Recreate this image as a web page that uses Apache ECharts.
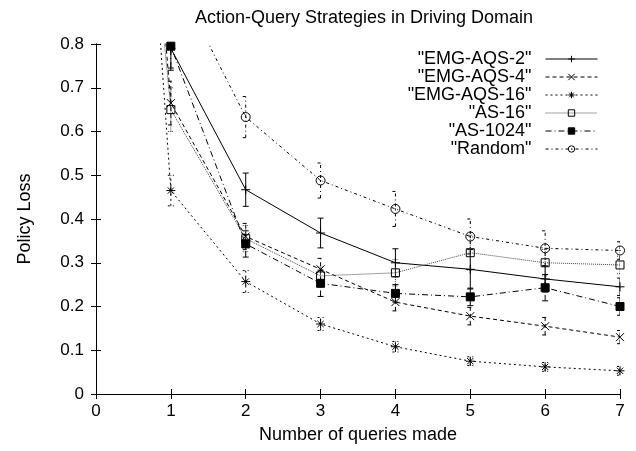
<!DOCTYPE html>
<html>
<head>
<meta charset="utf-8">
<script src="https://cdn.jsdelivr.net/npm/echarts@6/dist/echarts.min.js"></script>
<style>
  html, body { margin: 0; padding: 0; background: #fff; }
  #chart { width: 636px; height: 451px; }
</style>
</head>
<body>
<div id="chart"></div>
<script>
// number of queries (0 is off the top of the plot, only the lines show)
var queries = [0, 1, 2, 3, 4, 5, 6, 7];

var emg2 = [2.7, 0.79, 0.467, 0.368, 0.300, 0.285, 0.263, 0.245];
var emg2Err = [null, 0.05, 0.038, 0.034, 0.032, 0.045, 0.03, 0.02];

var emg4 = [2.7, 0.665, 0.360, 0.285, 0.210, 0.178, 0.155, 0.130];
var emg4Err = [null, 0.05, 0.03, 0.025, 0.02, 0.02, 0.02, 0.015];

var emg16 = [2.9, 0.465, 0.257, 0.160, 0.108, 0.075, 0.062, 0.053];
var emg16Err = [null, 0.035, 0.025, 0.015, 0.012, 0.01, 0.01, 0.01];

var as16 = [2.4, 0.650, 0.355, 0.270, 0.277, 0.323, 0.300, 0.295];
var as16Err = [null, 0.05, 0.03, 0.02, 0.03, 0.04, 0.03, 0.02];

var as1024 = [2.7, 0.795, 0.343, 0.253, 0.230, 0.222, 0.243, 0.200];
var as1024Err = [null, 0.05, 0.03, 0.03, 0.02, 0.02, 0.03, 0.02];

var random = [2.7, 0.97, 0.633, 0.488, 0.423, 0.360, 0.333, 0.328];
var randomErr = [null, null, 0.047, 0.04, 0.04, 0.04, 0.04, 0.02];

var names = ['"EMG-AQS-2"', '"EMG-AQS-4"', '"EMG-AQS-16"', '"AS-16"', '"AS-1024"', '"Random"'];
var yTicks = [0, 0.1, 0.2, 0.3, 0.4, 0.5, 0.6, 0.7, 0.8];

var myChart = echarts.init(document.getElementById('chart'));
var FONT = 'Liberation Sans, Arial, sans-serif';

function pts(vals) {
  return vals.map(function (v, i) { return [queries[i], v]; });
}
function errPts(vals, errs) {
  var out = [];
  vals.forEach(function (v, i) {
    if (errs[i] != null) out.push([queries[i], v - errs[i], v + errs[i]]);
  });
  return out;
}

// vertical error bar with small caps
function errRender(dash, color) {
  return function (params, api) {
    var x = api.value(0);
    var lo = api.coord([x, api.value(1)]);
    var hi = api.coord([x, api.value(2)]);
    var w = 3;
    var st = { stroke: color, lineWidth: 1, lineDash: dash, fill: null };
    return {
      type: 'group',
      children: [
        { type: 'line', shape: { x1: lo[0], y1: lo[1], x2: hi[0], y2: hi[1] }, style: st },
        { type: 'line', shape: { x1: lo[0] - w, y1: lo[1], x2: lo[0] + w, y2: lo[1] }, style: st },
        { type: 'line', shape: { x1: hi[0] - w, y1: hi[1], x2: hi[0] + w, y2: hi[1] }, style: st }
      ]
    };
  };
}

var styles = [
  { vals: emg2, errs: emg2Err, dash: 'solid', d: null, symbol: 'path://M0,5L10,5M5,0L5,10', size: 9, fill: 'rgba(0,0,0,0)', color: '#000' },
  { vals: emg4, errs: emg4Err, dash: [4, 3], d: [4, 3], symbol: 'path://M0,0L10,10M10,0L0,10', size: 8, fill: 'rgba(0,0,0,0)', color: '#000' },
  { vals: emg16, errs: emg16Err, dash: [2, 3], d: [2, 3], symbol: 'path://M0,5L10,5M5,0L5,10M1.5,1.5L8.5,8.5M8.5,1.5L1.5,8.5', size: 9, fill: 'rgba(0,0,0,0)', color: '#000' },
  { vals: as16, errs: as16Err, dash: [1, 1], d: [1, 1], symbol: 'rect', size: 8, fill: 'rgba(0,0,0,0)', color: '#444' },
  { vals: as1024, errs: as1024Err, dash: [6, 3, 1, 3], d: [6, 3, 1, 3], symbol: 'rect', size: 8, fill: '#000', color: '#000' },
  { vals: random, errs: randomErr, dash: [3, 3, 1, 3], d: [3, 3, 1, 3], symbol: 'path://M0,5A5,5 0 1,1 10,5A5,5 0 1,1 0,5ZM4.3,5L5.7,5', size: 9, fill: 'rgba(0,0,0,0)', color: '#000' }
];

var series = [];
styles.forEach(function (s, k) {
  series.push({
    name: names[k],
    type: 'line',
    data: pts(s.vals),
    symbol: s.symbol,
    symbolSize: s.size,
    showAllSymbol: true,
    clip: true,
    lineStyle: { color: s.color, width: 1, type: s.dash },
    itemStyle: { color: s.fill, borderColor: '#000', borderWidth: 1 },
    z: 3
  });
  series.push({
    name: 'err' + k,
    type: 'custom',
    data: errPts(s.vals, s.errs),
    encode: { x: 0, y: [1, 2] },
    clip: true,
    renderItem: errRender(s.d, s.color),
    z: 2
  });
});

var tickStyle = { show: true, inside: true, length: 5, lineStyle: { color: '#000' } };
var lineBlack = { show: true, lineStyle: { color: '#000', width: 1 } };
var labelFont = { color: '#000', fontSize: 17, fontFamily: FONT };

var option = {
  animation: false,
  backgroundColor: '#fff',
  title: {
    text: 'Action-Query Strategies in Driving Domain',
    left: 190,
    top: 4,
    textStyle: { color: '#000', fontSize: 18, fontWeight: 'normal', fontFamily: FONT }
  },
  legend: {
    data: names,
    orient: 'vertical',
    right: 38,
    top: 50,
    padding: 0,
    align: 'right',
    itemWidth: 52,
    itemHeight: 8,
    itemGap: 0,
    lineStyle: { width: 1 },
    itemStyle: { borderWidth: 1 },
    textStyle: { color: '#000', fontSize: 18, fontFamily: FONT, padding: [0, 9, 0, 0], lineHeight: 18 }
  },
  grid: { left: 96, right: 16, top: 44, bottom: 57 },
  xAxis: [{
    type: 'value', min: 0, max: 7, interval: 1,
    name: 'Number of queries made', nameLocation: 'middle', nameGap: 32,
    nameTextStyle: { color: '#000', fontSize: 18, fontFamily: FONT },
    axisLine: lineBlack, axisTick: tickStyle,
    axisLabel: Object.assign({ margin: 9 }, labelFont),
    splitLine: { show: false }
  }, {
    type: 'value', min: 0, max: 7, interval: 1, position: 'top',
    axisLine: lineBlack, axisTick: tickStyle, axisLabel: { show: false }, splitLine: { show: false }
  }],
  yAxis: [{
    type: 'value', min: 0, max: 0.8, interval: 0.1,
    name: 'Policy Loss', nameLocation: 'middle', nameGap: 62,
    nameTextStyle: { color: '#000', fontSize: 18, fontFamily: FONT },
    axisLine: lineBlack, axisTick: tickStyle,
    axisLabel: Object.assign({ margin: 12, formatter: function (v) { return yTicks.indexOf(+v.toFixed(1)) >= 0 ? String(+v.toFixed(1)) : ''; } }, labelFont),
    splitLine: { show: false }
  }, {
    type: 'value', min: 0, max: 0.8, interval: 0.1, position: 'right',
    axisLine: lineBlack, axisTick: tickStyle, axisLabel: { show: false }, splitLine: { show: false }
  }],
  series: series
};

myChart.setOption(option);
</script>
</body>
</html>
